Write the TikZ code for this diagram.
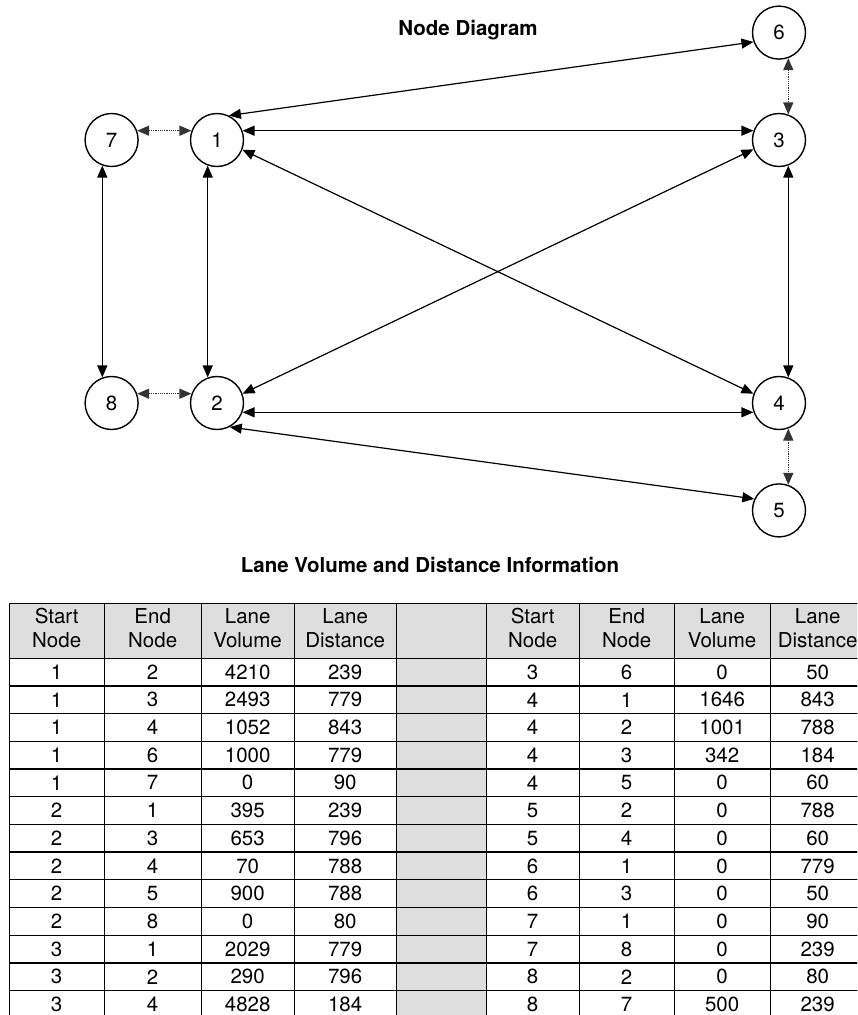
\documentclass[tikz,border=0pt]{standalone}
\usepackage{fontspec}
\setmainfont{TeX Gyre Heros}
\usetikzlibrary{arrows.meta, positioning, matrix}

\definecolor{shadegray}{gray}{0.87}
\newcommand{\twolines}[2]{\begin{tabular}{@{}c@{}}#1\\#2\end{tabular}}

\begin{document}
\begin{tikzpicture}[x=1pt, y=-1pt, font=\fontsize{20.5}{24}\selectfont,
          station/.style={circle, draw, line width=1.4pt, minimum size=53pt, inner sep=0pt},
          lane/.style={{Triangle[length=12pt,width=10pt]}-{Triangle[length=12pt,width=10pt]}, line width=1.2pt},
          spur/.style={lane, densely dotted, draw=gray!40!black},
          heading/.style={font=\fontsize{20.5}{24}\selectfont\bfseries},
          lanecell/.style={draw, line width=1.3pt, anchor=center, inner sep=0pt, minimum height=27.7pt}]
        \useasboundingbox (0,0) rectangle (857,1015);
        \clip (0,0) rectangle (857,1015);

        \node [heading] (title1) at (468,30) {Node Diagram};
        \node [station] (n1) at (217,140) {1};
        \node [station] (n2) at (217,403) {2};
        \node [station] (n3) at (779,140) {3};
        \node [station] (n4) at (779,403) {4};
        \node [station, left=51pt of n1] (n7) {7};
        \node [station, left=51pt of n2] (n8) {8};
        \node [station, above=53pt of n3] (n6) {6};
        \node [station, below=53pt of n4] (n5) {5};

        \draw [lane] (n1.20) -- (n3.160);
        \draw [lane] (n1.64) -- (n6.200);
        \draw [lane] (n1.-21) -- (n4.160);
        \draw [lane] (n1.250) -- (n2.110);
        \draw [lane] (n2.20) -- (n3.200);
        \draw [lane] (n2.-20) -- (n4.200);
        \draw [lane] (n2.-62) -- (n5.155);
        \draw [lane] (n3.-70) -- (n4.70);
        \draw [lane] (n7.250) -- (n8.110);
        \draw [spur] (n7.20) -- (n1.160);
        \draw [spur] (n8.20) -- (n2.160);
        \draw [spur] (n6.-70) -- (n3.70);
        \draw [spur] (n4.-70) -- (n5.70);

        \node [heading] (title2) at (430,565) {Lane Volume and Distance Information};
        \matrix (lanes) [matrix of nodes, nodes in empty cells, anchor=north west,
          column sep=-1.3pt, row sep=-1.3pt, nodes={lanecell},
          row 1/.style={nodes={fill=shadegray, minimum height=55pt}},
          column 5/.style={nodes={fill=shadegray, minimum width=90pt}},
          column 1/.style={nodes={minimum width=95pt}},
          column 2/.style={nodes={minimum width=97pt}},
          column 3/.style={nodes={minimum width=93pt}},
          column 4/.style={nodes={minimum width=102pt}},
          column 6/.style={nodes={minimum width=93pt}},
          column 7/.style={nodes={minimum width=95pt}},
          column 8/.style={nodes={minimum width=96pt}},
          column 9/.style={nodes={minimum width=95pt}}] at (5,599) {
          \twolines{Start}{Node} & \twolines{End}{Node} & \twolines{Lane}{Volume} & \twolines{Lane}{Distance} & & \twolines{Start}{Node} & \twolines{End}{Node} & \twolines{Lane}{Volume} & \twolines{Lane}{Distance} \\
          1 & 2 & 4210 & 239 & & 3 & 6 & 0 & 50 \\
          1 & 3 & 2493 & 779 & & 4 & 1 & 1646 & 843 \\
          1 & 4 & 1052 & 843 & & 4 & 2 & 1001 & 788 \\
          1 & 6 & 1000 & 779 & & 4 & 3 & 342 & 184 \\
          1 & 7 & 0 & 90 & & 4 & 5 & 0 & 60 \\
          2 & 1 & 395 & 239 & & 5 & 2 & 0 & 788 \\
          2 & 3 & 653 & 796 & & 5 & 4 & 0 & 60 \\
          2 & 4 & 70 & 788 & & 6 & 1 & 0 & 779 \\
          2 & 5 & 900 & 788 & & 6 & 3 & 0 & 50 \\
          2 & 8 & 0 & 80 & & 7 & 1 & 0 & 90 \\
          3 & 1 & 2029 & 779 & & 7 & 8 & 0 & 239 \\
          3 & 2 & 290 & 796 & & 8 & 2 & 0 & 80 \\
          3 & 4 & 4828 & 184 & & 8 & 7 & 500 & 239 \\
        };
      \end{tikzpicture}
\end{document}
